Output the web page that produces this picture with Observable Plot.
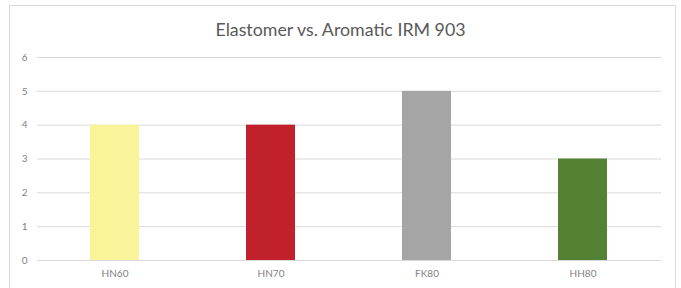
<!DOCTYPE html>
<html>
<head>
<meta charset="utf-8">
<script src="https://cdn.jsdelivr.net/npm/d3@7"></script>
<script src="https://cdn.jsdelivr.net/npm/@observablehq/plot@0.6"></script>
<style>
  body { margin: 0; background: #fff; }
  #wrap { position: relative; width: 681px; height: 288px; overflow: hidden; font-family: Lato, "Open Sans", sans-serif; }
  #frame { position: absolute; left: 9px; top: 5px; width: 667px; height: 290px; border: 1px solid #d9d9d9; box-sizing: border-box; }
  #title { position: absolute; top: 18px; left: 0; width: 681px; text-align: center; font-size: 17.8px; color: #595959; }
  #chart { position: absolute; left: 0; top: 0; }
</style>
</head>
<body>
<div id="wrap">
  <div id="frame"></div>
  <div id="title">Elastomer vs. Aromatic IRM 903</div>
  <div id="chart"></div>
</div>
<script>
const categories = ["HN60", "HN70", "FK80", "HH80"];
const values = [4, 4, 5, 3];
const colors = ["#F9F39A", "#C0212A", "#A5A5A5", "#548235"];
const yTicks = [0, 1, 2, 3, 4, 5, 6];

const data = categories.map((c, i) => ({category: c, value: values[i], color: colors[i]}));

const chart = Plot.plot({
  width: 681,
  height: 288,
  marginLeft: 37,
  marginRight: 20,
  marginTop: 57,
  marginBottom: 28,
  style: {background: "transparent", fontFamily: "Lato, 'Open Sans', sans-serif", color: "#7f7f7f"},
  x: {domain: categories, paddingInner: 0.685, paddingOuter: 0.3425, label: null},
  y: {domain: [0, 6], ticks: yTicks, label: null},
  marks: [
    Plot.ruleY(yTicks, {stroke: "#d9d9d9", strokeWidth: 1}),
    Plot.barY(data, {x: "category", y: "value", fill: "color"}),
    Plot.axisY({ticks: yTicks, tickFormat: "d", tickSize: 0, tickPadding: 10, fontSize: 10, fill: "#7f7f7f", label: null}),
    Plot.axisX({tickSize: 0, tickPadding: 9, fontSize: 10, fill: "#7f7f7f", label: null})
  ]
});
document.getElementById("chart").appendChild(chart);
</script>
</body>
</html>
